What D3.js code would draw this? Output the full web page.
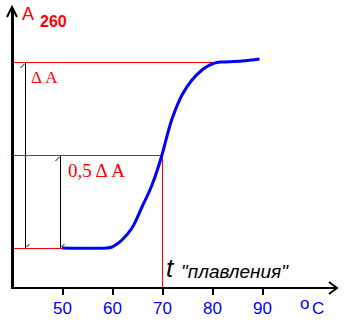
<!DOCTYPE html>
<html><head><meta charset="utf-8">
<script src="https://cdn.jsdelivr.net/npm/d3@7"></script>
<style>html,body{margin:0;padding:0;background:#fff;}svg{display:block;}</style>
</head><body>
<script>
// Data
const temps  = [50, 59, 60, 61, 62, 64, 66, 68, 70, 71, 72, 74, 76, 78, 79, 80, 81, 82, 86, 89.5];
const absorb = [0.40, 0.40, 0.41, 0.44, 0.48, 0.60, 0.81, 1.03, 1.33, 1.52, 1.69, 1.93, 2.08, 2.18, 2.215, 2.24, 2.255, 2.26, 2.27, 2.29];
const tickValues = [50, 60, 70, 80, 90];
const aLow = 0.40, aMid = 1.33, aHigh = 2.26;
const tMelt = 70, tTopEnd = 81.5, tStart = 50;
const arrowT = [42.6, 49.6];

const W = 354, H = 323;
const svg = d3.select("body").append("svg").attr("width", W).attr("height", H);
const x = d3.scaleLinear().domain([40, 100]).range([12, 312]);
const y = d3.scaleLinear().domain([0, 2.8]).range([288, 8]);

const red = "#ff0000", blue = "#0000ff";

// red guide lines
const g = svg.append("g").attr("shape-rendering", "crispEdges");
g.append("line").attr("x1", x(40)).attr("x2", x(tTopEnd)).attr("y1", y(aHigh)).attr("y2", y(aHigh)).attr("stroke", red).attr("stroke-width", 1);
g.append("line").attr("x1", x(40)).attr("x2", x(tMelt)).attr("y1", y(aMid)).attr("y2", y(aMid)).attr("stroke", red).attr("stroke-width", 1);
g.append("line").attr("x1", x(40)).attr("x2", x(tStart)).attr("y1", y(aLow)).attr("y2", y(aLow)).attr("stroke", red).attr("stroke-width", 1);
g.append("line").attr("x1", x(tMelt)).attr("x2", x(tMelt)).attr("y1", y(aMid)).attr("y2", y(0)).attr("stroke", red).attr("stroke-width", 1);

// black dimension arrows
const tops = [aHigh, aMid];
arrowT.forEach((t, i) => {
  const xx = Math.round(x(t)) + 0.5;
  const yt = y(tops[i]), yb = y(aLow);
  g.append("line").attr("x1", xx).attr("x2", xx).attr("y1", yt).attr("y2", yb).attr("stroke", "#000").attr("stroke-width", 1);
  svg.append("line").attr("x1", xx - 5).attr("y1", yt + 6).attr("x2", xx - 1).attr("y2", yt + 2).attr("stroke", "#000").attr("stroke-width", 1);
  svg.append("line").attr("x1", xx + 1).attr("y1", yb - 1).attr("x2", xx + 4).attr("y2", yb - 4).attr("stroke", "#000").attr("stroke-width", 1);
});

// curve
const pts = temps.map((t, i) => [t, absorb[i]]);
svg.append("path").datum(pts)
  .attr("d", d3.line().x(d => x(d[0])).y(d => y(d[1])).curve(d3.curveCatmullRom.alpha(0.5)))
  .attr("fill", "none").attr("stroke", blue).attr("stroke-width", 3);

// axes
const axg = svg.append("g").attr("shape-rendering", "crispEdges");
axg.append("line").attr("x1", 12).attr("x2", 12).attr("y1", 8).attr("y2", 289).attr("stroke", "#000").attr("stroke-width", 3);
svg.append("polyline").attr("points", "7,17 12,7 17,17").attr("fill", "none").attr("stroke", "#000").attr("stroke-width", 2);
axg.append("line").attr("x1", 11).attr("x2", 337).attr("y1", 288).attr("y2", 288).attr("stroke", "#000").attr("stroke-width", 2);
svg.append("polyline").attr("points", "329,282 337,288 329,294").attr("fill", "none").attr("stroke", "#000").attr("stroke-width", 2);

const ax = svg.append("g").attr("transform", "translate(0,288)")
  .call(d3.axisBottom(x).tickValues(tickValues).tickSize(7).tickFormat(d3.format("d")));
ax.select(".domain").remove();
ax.selectAll(".tick line").attr("stroke", "#000").attr("stroke-width", 2).attr("shape-rendering", "crispEdges");
ax.selectAll(".tick text").attr("y", 26).attr("dy", 0).attr("fill", blue)
  .style("font-family", "'Liberation Sans', Arial, sans-serif").style("font-size", "17px");

// labels
const sans = "'Liberation Sans', Arial, sans-serif", serif = "'Liberation Serif', 'Times New Roman', serif";
svg.append("text").attr("x", 22).attr("y", 20).attr("fill", red).style("font-family", sans).style("font-size", "18px").text("A");
svg.append("text").attr("x", 40).attr("y", 27).attr("fill", red).style("font-family", sans).style("font-size", "16px").style("font-weight", "bold").text("260");
svg.append("text").attr("x", 31).attr("y", 83).attr("fill", red).style("font-family", serif).style("font-size", "17px").text("Δ A");
svg.append("text").attr("x", 68).attr("y", 177).attr("fill", red).style("font-family", serif).style("font-size", "19px").text("0,5 Δ A");
svg.append("text").attr("x", 166).attr("y", 277).attr("fill", "#000").style("font-family", sans).style("font-size", "26px").style("font-style", "italic").text("t");
svg.append("text").attr("x", 181).attr("y", 278).attr("fill", "#000").style("font-family", sans).style("font-size", "19px").style("font-style", "italic").text("\"плавления\"");
svg.append("text").attr("x", 300).attr("y", 309).attr("fill", blue).style("font-family", sans).style("font-size", "17px").text("o");
svg.append("text").attr("x", 312).attr("y", 314).attr("fill", blue).style("font-family", sans).style("font-size", "17px").text("C");
</script>
</body></html>
